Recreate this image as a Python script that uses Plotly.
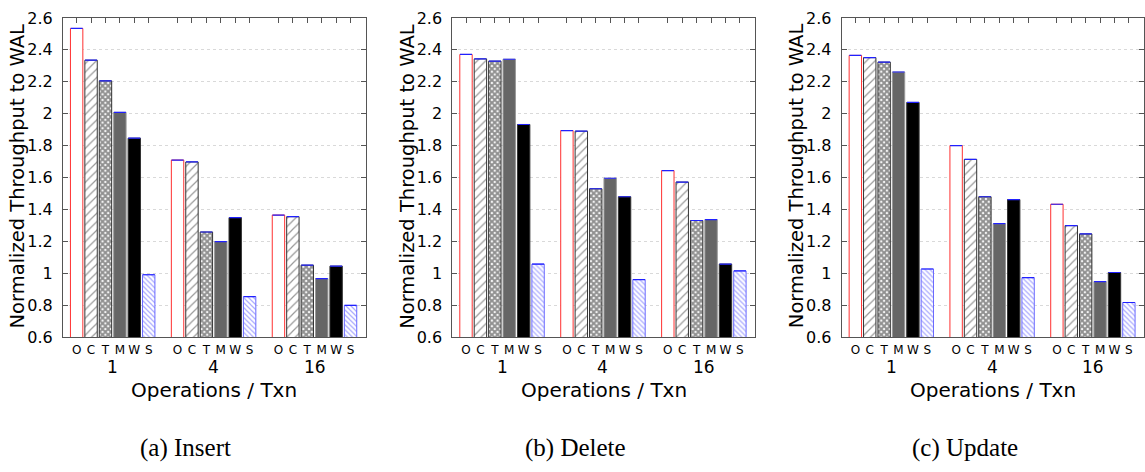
import plotly.graph_objects as go

# ---------------- data ----------------
groups = ["1", "4", "16"]
series = ["O", "C", "T", "M", "W", "S"]
panel_titles = ["(a) Insert", "(b) Delete", "(c) Update"]

insert_O = [2.534, 1.709, 1.364]
insert_C = [2.335, 1.697, 1.354]
insert_T = [2.206, 1.258, 1.050]
insert_M = [2.008, 1.198, 0.966]
insert_W = [1.846, 1.348, 1.044]
insert_S = [0.990, 0.853, 0.798]

delete_O = [2.371, 1.894, 1.643]
delete_C = [2.343, 1.890, 1.571]
delete_T = [2.329, 1.529, 1.330]
delete_M = [2.341, 1.595, 1.336]
delete_W = [1.932, 1.479, 1.057]
delete_S = [1.057, 0.960, 1.014]

update_O = [2.365, 1.800, 1.432]
update_C = [2.351, 1.713, 1.298]
update_T = [2.323, 1.479, 1.246]
update_M = [2.261, 1.310, 0.947]
update_W = [2.070, 1.461, 1.004]
update_S = [1.026, 0.972, 0.816]

y_ticks = [0.6, 0.8, 1.0, 1.2, 1.4, 1.6, 1.8, 2.0, 2.2, 2.4, 2.6]
y_ticktext = ["0.6", "0.8", "1", "1.2", "1.4", "1.6", "1.8", "2", "2.2", "2.4", "2.6"]

panels = [
    [insert_O, insert_C, insert_T, insert_M, insert_W, insert_S],
    [delete_O, delete_C, delete_T, delete_M, delete_W, delete_S],
    [update_O, update_C, update_T, update_M, update_W, update_S],
]

# ---------------- styles ----------------
FONT = "DejaVu Sans"
W, H = 1145, 472
styles = {
    "O": dict(color="white", line=dict(color="#ff3030", width=1)),
    "C": dict(color="white", line=dict(color="#333333", width=1),
              pattern=dict(shape="/", fgcolor="#333333", bgcolor="white", size=6, solidity=0.2)),
    "T": dict(color="white", line=dict(color="#333333", width=1),
              pattern=dict(shape="x", fgcolor="#222222", bgcolor="white", size=4, solidity=0.75)),
    "M": dict(color="#666666", line=dict(color="#999999", width=1)),
    "W": dict(color="#000000", line=dict(color="#333333", width=1)),
    "S": dict(color="white", line=dict(color="#6a6aff", width=1),
              pattern=dict(shape="\\", fgcolor="#5a5aff", bgcolor="white", size=3.5, solidity=0.35)),
}

group_step = len(series) + 1
positions = [g * group_step + s for g in range(len(groups)) for s in range(len(series))]
ticklabels = [s for g in range(len(groups)) for s in series]

panel_left_px = [63.0, 452.7, 842.4]
panel_width_px = 303.0
y_top_px, y_bot_px = 9.3, 341.7

fig = go.Figure()
layout = dict(
    width=W, height=H, autosize=False,
    margin=dict(l=0, r=0, t=0, b=0),
    paper_bgcolor="white", plot_bgcolor="white",
    showlegend=False, barmode="group",
    font=dict(family=FONT, color="black"),
    annotations=[],
)

xrange = [-0.95, 20.05]
ydom = [1 - y_bot_px / H, 1 - y_top_px / H]

for p, vals in enumerate(panels):
    k = "" if p == 0 else str(p + 1)
    ktop = str(p + 4)
    xa, ya, xt = "x" + k, "y" + k, "x" + ktop
    x0 = panel_left_px[p] / W
    x1 = min(1.0, (panel_left_px[p] + panel_width_px) / W)

    for s, name in enumerate(series):
        xs = [g * group_step + s for g in range(len(groups))]
        fig.add_trace(go.Bar(
            x=xs, y=vals[s], width=0.86, base=0,
            marker=styles[name], xaxis=xa, yaxis=ya, name=name,
            error_y=dict(type="data", array=[0] * len(xs), visible=True,
                         color="#2020ff", thickness=1.2, width=6),
            hoverinfo="skip",
        ))
    fig.add_trace(go.Scatter(x=[positions[0]], y=[y_ticks[0]], mode="markers",
                             marker=dict(opacity=0), xaxis=xt, yaxis=ya,
                             hoverinfo="skip", showlegend=False))

    layout["xaxis" + k] = dict(
        domain=[x0, x1], anchor=ya, range=xrange,
        tickvals=positions, ticktext=ticklabels, ticks="",
        tickfont=dict(size=12, family=FONT, color="black"),
        ticklabelstandoff=2, ticklabeloverflow="allow",
        showline=True, linecolor="#555555", linewidth=1, mirror=False,
        showgrid=False, zeroline=False, fixedrange=True,
    )
    layout["xaxis" + ktop] = dict(
        overlaying=xa, anchor=ya, side="top", range=xrange,
        tickvals=positions, showticklabels=False,
        ticks="inside", ticklen=5, tickcolor="#555555", tickwidth=1,
        showline=True, linecolor="#555555", linewidth=1,
        showgrid=False, zeroline=False, fixedrange=True,
    )
    layout["yaxis" + k] = dict(
        domain=ydom, anchor=xa, range=[0.6, 2.6],
        tickvals=y_ticks, ticktext=y_ticktext,
        ticks="inside", ticklen=5, tickcolor="#555555", tickwidth=1,
        ticklabelstandoff=6, ticklabeloverflow="allow",
        tickfont=dict(size=16, family=FONT, color="black"),
        showline=True, linecolor="#555555", linewidth=1, mirror="ticks",
        showgrid=True, gridcolor="#d9d9d9", griddash="dot", gridwidth=1,
        zeroline=False, fixedrange=True,
    )

    for g, gl in enumerate(groups):
        layout["annotations"].append(dict(
            text=gl, xref=xa, x=g * group_step + (len(series) - 1) / 2,
            yref="paper", y=1 - 373 / H, yanchor="middle", xanchor="center",
            showarrow=False, font=dict(size=17, family=FONT, color="black")))
    cx = (panel_left_px[p] + panel_width_px / 2) / W
    layout["annotations"].append(dict(
        text="Operations / Txn", xref="paper", x=cx, yref="paper", y=1 - 397 / H,
        yanchor="middle", xanchor="center", showarrow=False,
        font=dict(size=20, family=FONT, color="black")))
    layout["annotations"].append(dict(
        text="Normalized Throughput to WAL", textangle=-90,
        xref="paper", x=(panel_left_px[p] - 44.5) / W, yref="paper", y=1 - 174 / H,
        xanchor="center", yanchor="middle", showarrow=False,
        font=dict(size=19.5, family=FONT, color="black")))
    layout["annotations"].append(dict(
        text=panel_titles[p], xref="paper", x=(panel_left_px[p] + 123) / W,
        yref="paper", y=1 - 457 / H, xanchor="center", yanchor="middle",
        showarrow=False, font=dict(size=25, family="Liberation Serif", color="black")))

fig.update_layout(**layout)
fig.write_html("out.html", config={"displayModeBar": False},
               post_script="document.body.style.margin='0';")
